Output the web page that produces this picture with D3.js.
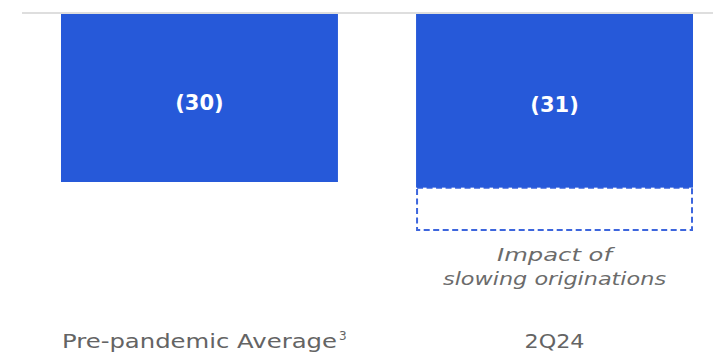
<!DOCTYPE html>
<html>
<head>
<meta charset="utf-8">
<script src="https://cdn.jsdelivr.net/npm/d3@7"></script>
<style>
  html, body { margin: 0; padding: 0; background: #ffffff; }
  svg { display: block; }
</style>
</head>
<body>
<svg id="chart" width="713" height="358"></svg>
<script>
// Categories and values (negative contributions, shown in parentheses)
const categories = ["Pre-pandemic Average", "2Q24"];
const footnotes = ["3", ""];
const values = [30, 31];
// Additional impact from slowing originations (dashed outline below a bar)
const impactValues = [0, 7.5];
const impactLabel = ["Impact of", "slowing originations"];

const svg = d3.select("#chart");
const W = 713, H = 358;

const x = d3.scaleBand()
  .domain(categories)
  .range([61, 693])
  .paddingInner(0.22)
  .paddingOuter(0);

// Bars hang down from the zero line at the top
const y = d3.scaleLinear()
  .domain([0, 30])
  .range([13, 182]);

const barColor = "#2659d9";

// Dashed outline for the impact segment
svg.selectAll("rect.impact")
  .data(categories.filter((c, i) => impactValues[i] > 0))
  .join("rect")
  .attr("class", "impact")
  .attr("x", c => x(c) + 1)
  .attr("width", x.bandwidth() - 2)
  .attr("y", c => y(values[categories.indexOf(c)]))
  .attr("height", c => {
    const i = categories.indexOf(c);
    return y(values[i] + impactValues[i]) - y(values[i]);
  })
  .attr("fill", "none")
  .attr("stroke", "#3d66dd")
  .attr("stroke-width", 2)
  .attr("stroke-dasharray", "6,3.5");

// Bars
svg.selectAll("rect.bar")
  .data(categories)
  .join("rect")
  .attr("class", "bar")
  .attr("x", c => x(c))
  .attr("width", x.bandwidth())
  .attr("y", y(0))
  .attr("height", (c, i) => y(values[i]) - y(0))
  .attr("fill", barColor);

// Zero line
svg.append("line")
  .attr("x1", 22).attr("x2", W)
  .attr("y1", y(0)).attr("y2", y(0))
  .attr("stroke", "#dedede")
  .attr("stroke-width", 2);

// Value labels inside bars
svg.selectAll("text.value")
  .data(categories)
  .join("text")
  .attr("class", "value")
  .attr("x", c => x(c) + x.bandwidth() / 2)
  .attr("y", (c, i) => (y(0) + y(values[i])) / 2 + 12)
  .attr("text-anchor", "middle")
  .attr("font-family", "DejaVu Sans")
  .attr("font-weight", "bold")
  .attr("font-size", 21)
  .attr("fill", "#ffffff")
  .text((c, i) => `(${values[i]})`);

// Impact annotation
categories.forEach((c, i) => {
  if (impactValues[i] <= 0) return;
  const cx = x(c) + x.bandwidth() / 2;
  const widths = [115, 223];
  impactLabel.forEach((line, j) => {
    svg.append("text")
      .attr("x", cx)
      .attr("y", 261 + j * 24)
      .attr("text-anchor", "middle")
      .attr("font-family", "DejaVu Sans")
      .attr("font-style", "italic")
      .attr("font-size", 18)
      .attr("fill", "#6b6b6b")
      .attr("textLength", widths[j])
      .attr("lengthAdjust", "spacingAndGlyphs")
      .text(line);
  });
});

// Category labels along the bottom
const catWidths = [275, 60];
categories.forEach((c, i) => {
  const cx = x(c) + x.bandwidth() / 2;
  svg.append("text")
    .attr("x", cx)
    .attr("y", 348)
    .attr("text-anchor", "middle")
    .attr("font-family", "DejaVu Sans")
    .attr("font-size", 19)
    .attr("fill", "#646464")
    .attr("textLength", catWidths[i])
    .attr("lengthAdjust", "spacingAndGlyphs")
    .text(c);
  if (footnotes[i]) {
    svg.append("text")
      .attr("x", cx + catWidths[i] / 2 + 2)
      .attr("y", 340)
      .attr("font-family", "DejaVu Sans")
      .attr("font-size", 12)
      .attr("fill", "#646464")
      .text(footnotes[i]);
  }
});
</script>
</body>
</html>
